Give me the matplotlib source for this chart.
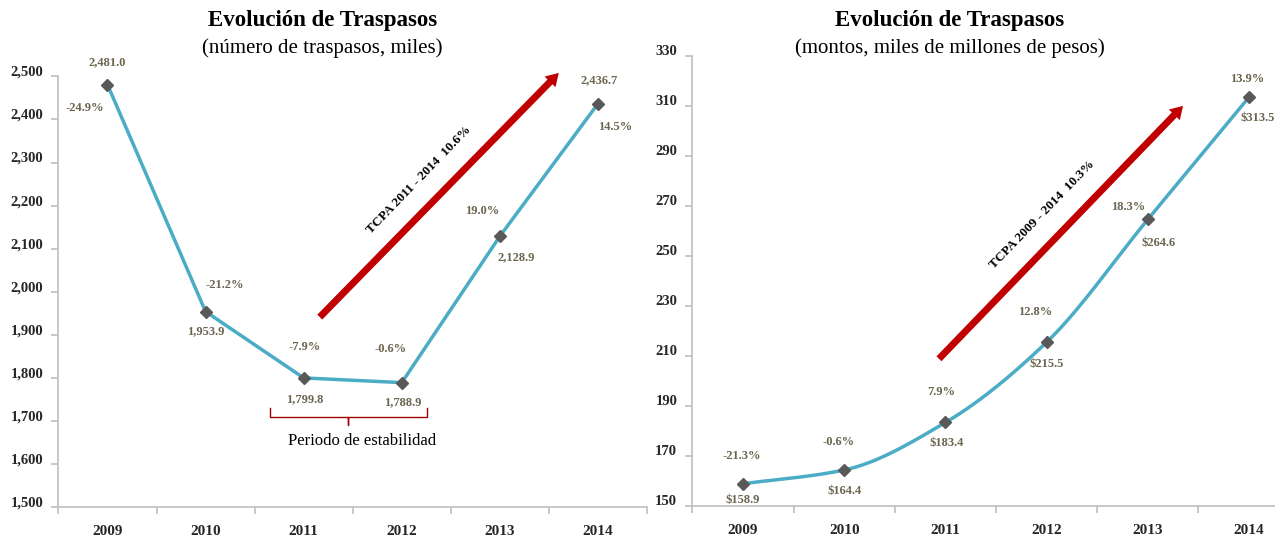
import numpy as np
import matplotlib
matplotlib.use("Agg")
import matplotlib.pyplot as plt
from matplotlib.ticker import FuncFormatter, FixedLocator
from matplotlib.transforms import ScaledTranslation

plt.rcParams["font.family"] = ["Liberation Serif", "DejaVu Serif"]

# datos
years = ["2009", "2010", "2011", "2012", "2013", "2014"]
num_traspasos = [2481.0, 1953.9, 1799.8, 1788.9, 2128.9, 2436.7]
var_num = ["-24.9%", "-21.2%", "-7.9%", "-0.6%", "19.0%", "14.5%"]
montos = [158.9, 164.4, 183.4, 215.5, 264.6, 313.5]
var_montos = ["-21.3%", "-0.6%", "7.9%", "12.8%", "18.3%", "13.9%"]
tcpa_num = "TCPA 2011 - 2014  10.6%"
tcpa_montos = "TCPA 2009 - 2014  10.3%"

LINE = "#4bacc6"
MARK = "#595959"
LBL = "#6b6650"
RED = "#c00000"
SPINE = "#bfbfbf"

# desplazamientos (puntos) de las etiquetas respecto a cada punto
off_val_l = [(0, 16), (0, -14), (1, -15), (1, -14), (12, -15), (1, 17)]
off_pct_l = [(-16, -17), (14, 19), (1, 22), (-8, 24), (-13, 18), (12, -17)]
off_val_r = [(0, -12), (0, -15), (1, -15), (0, -16), (8, -17), (6, -15)]
off_pct_r = [(-1, 20), (-4, 20), (-3, 22), (-8, 22), (-14, 9), (-1, 13)]


def smooth(x, y, n=30):
    # cubica monotona por los puntos (linea suavizada)
    x = np.asarray(x, float)
    y = np.asarray(y, float)
    d = np.diff(y) / np.diff(x)
    m = np.empty_like(y)
    m[0], m[-1] = d[0], d[-1]
    for i in range(1, len(y) - 1):
        a, b = d[i - 1], d[i]
        m[i] = 2 * a * b / (a + b) if a * b > 0 else 0.0
    t = np.linspace(0, 1, n)
    h00 = 2 * t ** 3 - 3 * t ** 2 + 1
    h10 = t ** 3 - 2 * t ** 2 + t
    h01 = -2 * t ** 3 + 3 * t ** 2
    h11 = t ** 3 - t ** 2
    xs, ys = [], []
    for i in range(len(x) - 1):
        h = x[i + 1] - x[i]
        xs.extend(x[i] + h * t)
        ys.extend(h00 * y[i] + h10 * h * m[i] + h01 * y[i + 1] + h11 * h * m[i + 1])
    return xs, ys


def style_axis(ax, yticks, fmt):
    x = np.arange(len(years))
    ax.set_xlim(-0.5, len(years) - 0.5)
    for s in ["top", "right"]:
        ax.spines[s].set_visible(False)
    for s in ["left", "bottom"]:
        ax.spines[s].set_color(SPINE)
        ax.spines[s].set_linewidth(1.2)
    ax.set_xticks(x)
    ax.set_xticklabels(years, fontsize=11, fontweight="bold", color="#262626")
    ax.xaxis.set_minor_locator(FixedLocator(np.arange(-0.5, len(years), 1)))
    ax.tick_params(axis="x", which="major", length=0, pad=13)
    ax.tick_params(axis="x", which="minor", length=5, color=SPINE, width=1.2)
    ax.set_yticks(yticks)
    ax.yaxis.set_major_formatter(FuncFormatter(fmt))
    ax.tick_params(axis="y", length=5, color=SPINE, width=1.2, pad=6,
                   labelsize=10.5, labelcolor="#262626")
    shift = ScaledTranslation(0, 4 / 72, ax.figure.dpi_scale_trans)
    for lab in ax.get_yticklabels():
        lab.set_transform(lab.get_transform() + shift)
        lab.set_fontweight("bold")


fig = plt.figure(figsize=(12.75, 5.41), dpi=100)

# ---- numero de traspasos ----
ax1 = fig.add_axes([0.0458, 0.0628, 0.4617, 0.796])
x = np.arange(len(years))
ax1.plot(x, num_traspasos, color=LINE, lw=2.5, zorder=2)
ax1.plot(x, num_traspasos, ls="none", marker="D", ms=6.5, color=MARK, zorder=3)
ax1.set_ylim(1500, 2500)
style_axis(ax1, np.arange(1500, 2501, 100), lambda v, p: f"{v:,.0f}")
for i, v in enumerate(num_traspasos):
    ax1.annotate(f"{v:,.1f}", (i, v), xytext=off_val_l[i], textcoords="offset points",
                 ha="center", va="center", fontsize=9, color=LBL, fontweight="bold")
    ax1.annotate(var_num[i], (i, v), xytext=off_pct_l[i], textcoords="offset points",
                 ha="center", va="center", fontsize=9, color=LBL, fontweight="bold")

ax1.annotate("", xy=(0.850, 1.008), xytext=(0.444, 0.441), xycoords="axes fraction",
             annotation_clip=False,
             arrowprops=dict(width=5, headwidth=11, headlength=9, color=RED, lw=0))
ax1.text(0.612, 0.759, tcpa_num, transform=ax1.transAxes, rotation=46,
         rotation_mode="anchor", ha="center", va="center", fontsize=9.5,
         fontweight="bold", color="black")

# llave del periodo de estabilidad
bx0, bx1, bxc = 0.3595, 0.6254, 0.4922
by_top, by_bot, by_tip = 0.230, 0.209, 0.190
ax1.plot([bx0, bx0, bxc, bxc, bxc, bx1, bx1],
         [by_top, by_bot, by_bot, by_tip, by_bot, by_bot, by_top],
         transform=ax1.transAxes, color="#a00000", lw=1, clip_on=False)
ax1.text(0.516, 0.153, "Periodo de estabilidad", transform=ax1.transAxes,
         ha="center", va="center", fontsize=12, color="black")

fig.text(0.253, 0.962, "Evolución de Traspasos", ha="center", va="center",
         fontsize=16.5, fontweight="bold")
fig.text(0.253, 0.911, "(número de traspasos, miles)", ha="center", va="center",
         fontsize=15)

# ---- montos ----
ax2 = fig.add_axes([0.5431, 0.0647, 0.4762, 0.832])
sx, sy = smooth(x, montos)
ax2.plot(sx, sy, color=LINE, lw=2.5, zorder=2)
ax2.plot(x, montos, ls="none", marker="D", ms=6.5, color=MARK, zorder=3)
ax2.set_ylim(150, 330)
style_axis(ax2, np.arange(150, 331, 20), lambda v, p: f"{v:.0f}")
for i, v in enumerate(montos):
    ax2.annotate(f"${v:.1f}", (i, v), xytext=off_val_r[i], textcoords="offset points",
                 ha="center", va="center", fontsize=9, color=LBL, fontweight="bold")
    ax2.annotate(var_montos[i], (i, v), xytext=off_pct_r[i], textcoords="offset points",
                 ha="center", va="center", fontsize=9, color=LBL, fontweight="bold")

ax2.annotate("", xy=(0.808, 0.889), xytext=(0.406, 0.327), xycoords="axes fraction",
             annotation_clip=False,
             arrowprops=dict(width=5, headwidth=11, headlength=9, color=RED, lw=0))
ax2.text(0.577, 0.647, tcpa_montos, transform=ax2.transAxes, rotation=46,
         rotation_mode="anchor", ha="center", va="center", fontsize=9.5,
         fontweight="bold", color="black")

fig.text(0.745, 0.962, "Evolución de Traspasos", ha="center", va="center",
         fontsize=16.5, fontweight="bold")
fig.text(0.745, 0.911, "(montos, miles de millones de pesos)", ha="center", va="center",
         fontsize=15)

fig.savefig("out.png", dpi=100, facecolor="white")
